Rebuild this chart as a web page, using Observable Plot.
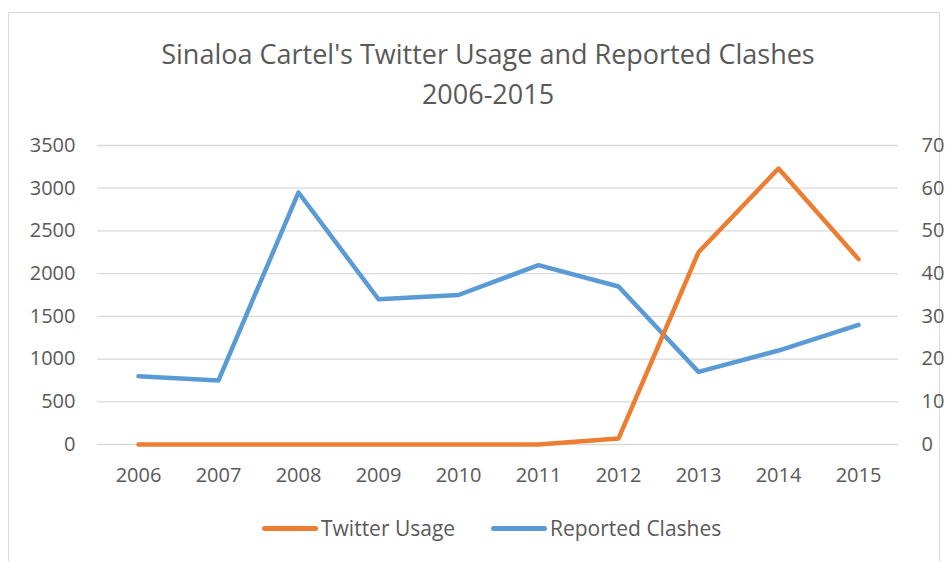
<!DOCTYPE html>
<html>
<head>
<meta charset="utf-8">
<script src="https://cdn.jsdelivr.net/npm/d3@7"></script>
<script src="https://cdn.jsdelivr.net/npm/@observablehq/plot@0.6"></script>
<style>
  html, body { margin: 0; padding: 0; background: #fff; }
  #wrap { position: relative; width: 948px; height: 561px; overflow: hidden; font-family: "Open Sans", sans-serif; }
  #frame { position: absolute; left: 8px; top: 12px; width: 932px; height: 600px; border: 1px solid #D9D9D9; box-sizing: border-box; }
  #title { position: absolute; left: 14px; width: 948px; top: 34px; text-align: center; color: #595959; font-size: 27px; line-height: 40px; }
  #chart { position: absolute; left: 0; top: 120px; }
  #legend { position: absolute; top: 514px; left: 0; width: 948px; height: 28px; color: #595959; font-size: 21px; }
  .item { position: absolute; top: 0; display: flex; align-items: center; height: 28px; }
  .swatch { width: 56px; height: 5px; border-radius: 3px; margin-right: 3px; }
</style>
</head>
<body>
<div id="wrap">
  <div id="frame"></div>
  <div id="title">Sinaloa Cartel's Twitter Usage and Reported Clashes<br>2006-2015</div>
  <div id="chart"></div>
  <div id="legend"></div>
</div>
<script>
const years = ["2006", "2007", "2008", "2009", "2010", "2011", "2012", "2013", "2014", "2015"];
const twitterUsage = [0, 0, 0, 0, 0, 0, 70, 2250, 3230, 2170];
const reportedClashes = [16, 15, 59, 34, 35, 42, 37, 17, 22, 28];
const leftTicks = [0, 500, 1000, 1500, 2000, 2500, 3000, 3500];
const rightTicks = [0, 10, 20, 30, 40, 50, 60, 70];
const seriesNames = ["Twitter Usage", "Reported Clashes"];
const seriesColors = ["#ED7D31", "#5B9BD5"];

const leftMax = 3500, rightMax = 70;
const ratio = leftMax / rightMax;

const twitterData = years.map((y, i) => ({year: y, value: twitterUsage[i]}));
const clashData = years.map((y, i) => ({year: y, value: reportedClashes[i]}));

const chart = Plot.plot({
  width: 948,
  height: 374,
  marginTop: 25,
  marginBottom: 50,
  marginLeft: 97,
  marginRight: 50,
  style: { fontFamily: "Open Sans, sans-serif", fontSize: "20px", color: "#595959", background: "transparent" },
  x: { type: "point", domain: years, padding: 0.5, axis: null, label: null },
  y: { domain: [0, leftMax], axis: null, label: null },
  marks: [
    Plot.gridY(leftTicks, { stroke: "#D9D9D9", strokeOpacity: 1, strokeWidth: 1.3 }),
    Plot.axisX({ tickSize: 0, tickPadding: 23, fill: "#595959", label: null }),
    Plot.axisY(leftTicks, { anchor: "left", tickSize: 0, tickPadding: 22, fill: "#595959", label: null, tickFormat: d => String(d) }),
    Plot.axisY(rightTicks.map(d => d * ratio), { anchor: "right", tickSize: 0, tickPadding: 23, fill: "#595959", label: null, tickFormat: d => String(Math.round(d / ratio)) }),
    Plot.line(clashData, { x: "year", y: d => d.value * ratio, stroke: seriesColors[1], strokeWidth: 4.5, strokeLinejoin: "round", strokeLinecap: "round" }),
    Plot.line(twitterData, { x: "year", y: "value", stroke: seriesColors[0], strokeWidth: 4.5, strokeLinejoin: "round", strokeLinecap: "round" })
  ]
});
document.getElementById("chart").appendChild(chart);

const legend = document.getElementById("legend");
const lefts = [262, 491];
seriesNames.forEach((name, i) => {
  const item = document.createElement("div");
  item.className = "item";
  item.style.left = lefts[i] + "px";
  const sw = document.createElement("div");
  sw.className = "swatch";
  sw.style.background = seriesColors[i];
  const label = document.createElement("span");
  label.textContent = name;
  item.appendChild(sw);
  item.appendChild(label);
  legend.appendChild(item);
});
</script>
</body>
</html>
